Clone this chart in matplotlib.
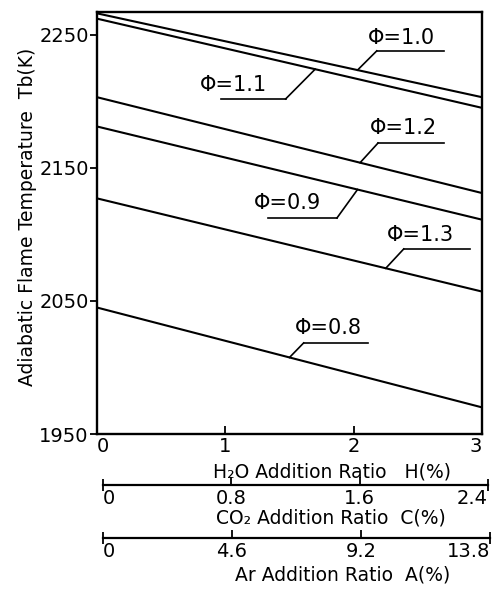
import numpy as np
import matplotlib.pyplot as plt

plt.rcParams['font.family'] = ['DejaVu Sans']

# H2O addition ratio (%) at the two ends of each line
h_ratio = [0, 3]

# adiabatic flame temperature Tb (K) for each equivalence ratio
tb_phi10 = [2266, 2203]
tb_phi11 = [2262, 2195]
tb_phi12 = [2203, 2131]
tb_phi09 = [2181, 2111]
tb_phi13 = [2127, 2057]
tb_phi08 = [2045, 1970]

phi_labels = ['1.0', '1.1', '1.2', '0.9', '1.3', '0.8']
series = [tb_phi10, tb_phi11, tb_phi12, tb_phi09, tb_phi13, tb_phi08]

# secondary scales
co2_ticks = [0, 0.8, 1.6, 2.4]
ar_ticks = [0, 4.6, 9.2, 13.8]

# label layout: text (x, y), underline (x0, x1, y), leader start end (0/1), leader target x
label_pos = [(2.11, 2247.5), (0.80, 2212), (2.13, 2180), (1.22, 2123.6), (2.26, 2099.5), (1.54, 2029.6)]
underline = [(2.18, 2.70, 2237.8), (0.97, 1.47, 2201.7), (2.19, 2.70, 2168.6),
             (1.33, 1.87, 2112.3), (2.39, 2.91, 2089), (1.61, 2.11, 2018.4)]
leader_from = [0, 1, 0, 1, 0, 0]
leader_to = [2.03, 1.70, 2.05, 2.03, 2.25, 1.50]

W, H = 497, 590
fig = plt.figure(figsize=(W / 100, H / 100), dpi=100)
ax = fig.add_axes([97 / W, 1 - 434 / H, (482 - 97) / W, (434 - 12) / H])

for tb in series:
    ax.plot(h_ratio, tb, color='black', lw=1.5)

for i, lab in enumerate(phi_labels):
    tx, ty = label_pos[i]
    ax.text(tx, ty, 'Φ=' + lab, fontsize=15, ha='left', va='center')
    x0, x1, uy = underline[i]
    ax.plot([x0, x1], [uy, uy], color='black', lw=1.2)
    xs = x0 if leader_from[i] == 0 else x1
    xt = leader_to[i]
    yt = np.interp(xt, h_ratio, series[i])
    ax.plot([xs, xt], [uy, yt], color='black', lw=1.2)

ax.set_xlim(0, 3)
ax.set_ylim(1950, 2267)
ax.set_yticks([1950, 2050, 2150, 2250])
ax.set_xticks([0, 1, 2, 3])
ax.tick_params(axis='y', direction='out', length=5, width=1.3, labelsize=14, pad=1)
ax.tick_params(axis='x', direction='in', length=6, width=1.3, labelsize=14, pad=2)
for s in ax.spines.values():
    s.set_linewidth(1.7)
xl = ax.get_xticklabels()
xl[0].set_ha('left')
xl[-1].set_ha('right')

fig.text(28 / W, 1 - 217 / H, 'Adiabatic Flame Temperature  Tb(K)', rotation=90,
         fontsize=13.5, ha='center', va='center')
fig.text(213 / W, 1 - 472 / H, 'H₂O Addition Ratio   H(%)', fontsize=13.5, ha='left', va='center')


def scale_axis(y_px, x_right_px, ticks, title, title_x_px, title_y_px):
    sa = fig.add_axes([103 / W, 1 - y_px / H, (x_right_px - 103) / W, 0.0001])
    sa.set_facecolor('none')
    for k in ['left', 'right', 'top']:
        sa.spines[k].set_visible(False)
    sa.spines['bottom'].set_linewidth(1.6)
    sa.set_yticks([])
    sa.set_xlim(ticks[0], ticks[-1])
    sa.set_xticks(ticks[1:-1], labels=[str(t) for t in ticks[1:-1]])
    sa.set_xticks([ticks[0], ticks[-1]], labels=['0', str(ticks[-1])], minor=True)
    sa.tick_params(axis='x', which='major', direction='in', length=6, width=1.3, labelsize=14, pad=3)
    sa.tick_params(axis='x', which='minor', direction='inout', length=8, width=1.3, labelsize=14, pad=-1)
    ml = sa.get_xticklabels(minor=True)
    ml[0].set_ha('left')
    ml[1].set_ha('right')
    fig.text(title_x_px / W, 1 - title_y_px / H, title, fontsize=13.5, ha='left', va='center')
    return sa


scale_axis(485, 488, co2_ticks, 'CO₂ Addition Ratio  C(%)', 216, 518)
scale_axis(538, 490, ar_ticks, 'Ar Addition Ratio  A(%)', 235, 575)

fig.savefig('out.png', dpi=100)
